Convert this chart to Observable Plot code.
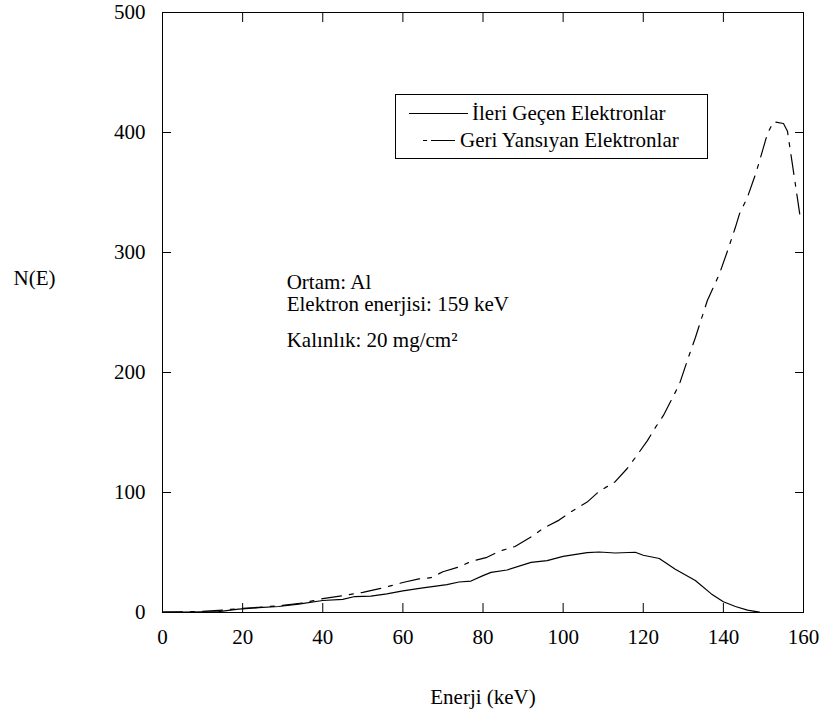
<!DOCTYPE html>
<html><head><meta charset="utf-8">
<script src="https://cdn.jsdelivr.net/npm/d3@7"></script>
<script src="https://cdn.jsdelivr.net/npm/@observablehq/plot@0.6"></script>
<style>body{margin:0;background:#fff}</style>
</head><body><div id="chart"></div>
<script>
const xTicks = [0, 20, 40, 60, 80, 100, 120, 140, 160];
const yTicks = [0, 100, 200, 300, 400, 500];
const seriesNames = ["İleri Geçen Elektronlar", "Geri Yansıyan Elektronlar"];
const infoLines = ["Ortam: Al", "Elektron enerjisi: 159 keV", "Kalınlık: 20 mg/cm²"];
const xLabel = "Enerji (keV)";
const yLabel = "N(E)";

// İleri geçen (solid)
const forwardEnergy = [0,5,10,14,19,24,29,34,40,45,48,52,56,60,65,71,74,77,80,82,86,92,96,100,106,109,113,118,120,124,128,133,137,140,143,146,149];
const forwardCount  = [0.3,0.3,0.5,0.8,2.8,4,5,7,10,11,13.3,13.6,15.5,18,20.5,23.3,25.4,26.2,30.7,33.4,35.4,41.8,43.2,46.8,49.9,50.4,49.6,50.2,47.7,45,36,26.7,15.5,9,5,2,0.3];

// Geri yansıyan (dashed)
const backEnergy = [0,5,10,15,20,25,30,35,40,45,50,55,60,64,67,70,74,77,81,84,88,92,95,99,102,106,109,113,116,118,121,123,125,127,129,131,133,136,139,141,143,144,146,148,149,151,152.5,155,156,157.3,159.2];
const backCount  = [0.3,0.6,1,2,3.5,4.5,6,8,11.5,14,16.8,20.5,25,28,29,34,38,42.5,46,51,55,63,70,77,84,92,101,109,120,129,143,154,164,177,190,210,229,260,282,301,321,332,346,365,376,399,409,407.5,401,372,329];

const forward = forwardEnergy.map((e, i) => ({e, n: forwardCount[i]}));
const back = backEnergy.map((e, i) => ({e, n: backCount[i]}));
const info = infoLines.map((t, i) => ({t, i}));

const FONT = "Liberation Serif";
const FS = 21;
const chart = Plot.plot({
  width: 821, height: 720,
  marginLeft: 162, marginRight: 18, marginTop: 12, marginBottom: 108,
  x: {domain: [0, 160], label: null},
  y: {domain: [0, 500], label: null},
  style: {fontSize: FS + "px", background: "white", color: "black"},
  marks: [
    Plot.axisX(xTicks, {anchor: "bottom", tickSize: 0, tickPadding: 17, fontSize: FS}),
    Plot.axisY(yTicks, {anchor: "left", tickSize: 0, tickPadding: 17, fontSize: FS}),
    Plot.axisX(xTicks.slice(1, -1), {anchor: "bottom", tickSize: -9, tickFormat: () => ""}),
    Plot.axisX(xTicks.slice(1, -1), {anchor: "top", tickSize: -9, tickFormat: () => ""}),
    Plot.axisY(yTicks.slice(1, -1), {anchor: "left", tickSize: -9, tickFormat: () => ""}),
    Plot.axisY(yTicks.slice(1, -1), {anchor: "right", tickSize: -9, tickFormat: () => ""}),
    Plot.frame({stroke: "black", strokeWidth: 1}),
    Plot.line(forward, {x: "e", y: "n", stroke: "black", strokeWidth: 1.2}),
    Plot.line(back, {x: "e", y: "n", stroke: "black", strokeWidth: 1.2, strokeDasharray: "20,8,4,8"}),
    Plot.text(info, {x: 31, y: d => [275, 257, 226.5][d.i], text: "t", textAnchor: "start", lineAnchor: "middle", fontSize: FS}),
    Plot.text([yLabel], {frameAnchor: "left", text: d => d, textAnchor: "start", dx: -149, dy: -34, fontSize: FS}),
    Plot.text([xLabel], {frameAnchor: "bottom", text: d => d, textAnchor: "middle", dy: 91, fontSize: FS})
  ]
});
document.getElementById("chart").appendChild(chart);

// legend
const svg = d3.select(chart);
const g = svg.append("g").attr("font-size", FS).attr("text-anchor", "start");
g.append("rect").attr("x", 395.5).attr("y", 94.5).attr("width", 312).attr("height", 64)
  .attr("fill", "white").attr("stroke", "black");
g.append("line").attr("x1", 409).attr("x2", 468).attr("y1", 113.5).attr("y2", 113.5)
  .attr("stroke", "black").attr("stroke-width", 1.2);
g.append("line").attr("x1", 423).attr("x2", 455).attr("y1", 140.5).attr("y2", 140.5)
  .attr("stroke", "black").attr("stroke-width", 1.2).attr("stroke-dasharray", "4,4,24");
g.append("text").attr("x", 472).attr("y", 113.5).attr("dy", "0.32em").text(seriesNames[0]);
g.append("text").attr("x", 460).attr("y", 140.5).attr("dy", "0.32em").text(seriesNames[1]);

// force the serif face on every text element
chart.setAttribute("font-family", FONT);
chart.style.setProperty("font-family", FONT, "important");
chart.querySelectorAll("text, tspan, g").forEach(el => {
  el.setAttribute("font-family", FONT);
  el.style.setProperty("font-family", FONT, "important");
});
</script>
</body></html>
